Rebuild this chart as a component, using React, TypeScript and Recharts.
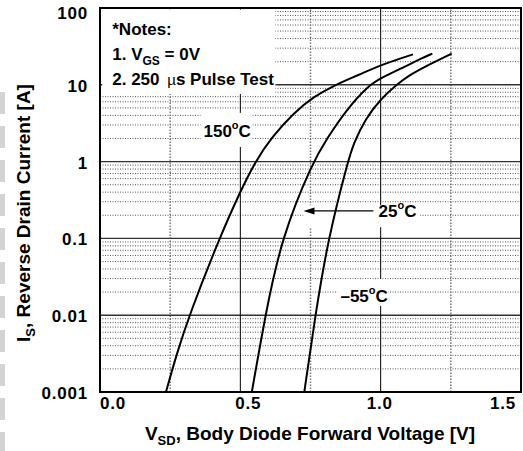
import React from "react";
import { LineChart, Line, XAxis, YAxis, ReferenceLine, ReferenceArea } from "recharts";

const FONT = '"Liberation Sans", Arial, Helvetica, sans-serif';

// body diode curves: forward voltage [V] vs reverse drain current [A]
const vf150 = [0.235, 0.274, 0.318, 0.425, 0.5, 0.553, 0.613, 0.69, 0.761, 0.838, 0.927, 1.002, 1.115];
const is150 = [0.001, 0.0032, 0.01, 0.1, 0.41, 1, 2.1, 4.3, 7.0, 10, 13.7, 18.2, 24.9];

const vf25 = [0.541, 0.589, 0.646, 0.758, 0.809, 0.875, 0.959, 1.001, 1.094, 1.141, 1.184];
const is25 = [0.001, 0.01, 0.1, 1, 2.0, 4.6, 10, 12.2, 17.8, 21.7, 25.5];

const vfM55 = [0.728, 0.767, 0.813, 0.883, 0.903, 0.945, 1.001, 1.057, 1.099, 1.177, 1.253];
const isM55 = [0.001, 0.01, 0.1, 1, 1.7, 3.6, 6.6, 10, 13.2, 18.7, 25.5];

const xTicks = [0, 0.5, 1.0, 1.5];
const xTickLabels = ["0.0", "0.5", "1.0", "1.5"];
const xTickShift = [13, 8, -1, -10];
const yTicks = [0.001, 0.01, 0.1, 1, 10, 100];
const yTickLabels = ["0.001", "0.01", "0.1", "1", "10", "100"];

const xMajorGrid = [0.5, 1.0];
const xMinorGrid = [0.25, 0.75, 1.25];
const yMajorGrid = [0.01, 0.1, 1, 10];
const decades = [0.001, 0.01, 0.1, 1, 10];
const yMinorGrid = decades.flatMap((d) => [2, 3, 4, 5, 6, 7, 8, 9].map((m) => +(d * m).toPrecision(3)));

const toPoints = (vf: number[], is: number[]) => vf.map((v, k) => ({ v, i: is[k] }));
const curve150 = toPoints(vf150, is150);
const curve25 = toPoints(vf25, is25);
const curveM55 = toPoints(vfM55, isM55);

const bold = { fontFamily: FONT, fontWeight: "bold" as const, fill: "#000" };

const XTick = (props: any) => {
  const k = xTicks.indexOf(props.payload.value);
  return (
    <text x={props.x + (xTickShift[k] ?? 0)} y={props.y + 17} textAnchor="middle" fontSize={17} letterSpacing={0.8} {...bold}>
      {xTickLabels[k]}
    </text>
  );
};

const YTick = (props: any) => {
  const k = yTicks.indexOf(props.payload.value);
  return (
    <text x={props.x} y={Math.max(props.y, 12) + 7} textAnchor="end" fontSize={17} letterSpacing={0.8} {...bold}>
      {yTickLabels[k]}
    </text>
  );
};

const Degrees = ({ x, y, value }: { x: number; y: number; value: string }) => (
  <text x={x} y={y} fontSize={17} {...bold}>
    {value}
    <tspan fontSize={11} dy={-8}>o</tspan>
    <tspan dy={8}>C</tspan>
  </text>
);

const NotesBox = (p: any) => (
  <g>
    <rect x={p.x} y={p.y} width={p.width} height={p.height} fill="#fff" />
    <text x={p.x + 10} y={p.y + 25} fontSize={17} {...bold}>*Notes:</text>
    <text x={p.x + 10} y={p.y + 50} fontSize={17} {...bold}>
      1. V<tspan fontSize={12} dy={5}>GS</tspan>
      <tspan dy={-5}> = 0V</tspan>
    </text>
    <text x={p.x + 10} y={p.y + 75} fontSize={17} {...bold}>
      2. 250 <tspan fontWeight="normal" fontSize={15} dx={3}>µ</tspan>s Pulse Test
    </text>
  </g>
);

const LabelBox = (text: string, dx: number, dy: number) => (p: any) => (
  <g>
    <rect x={p.x} y={p.y} width={p.width} height={p.height} fill="#fff" />
    <Degrees x={p.x + dx} y={p.y + dy} value={text} />
  </g>
);

const Arrow = (p: any) => {
  const { x1, y1, x2, y2 } = p;
  return (
    <g>
      <line x1={x1 + 8} y1={y1} x2={x2} y2={y2} stroke="#000" strokeWidth={1.3} />
      <polygon points={`${x1},${y1} ${x1 + 11},${y1 - 3.5} ${x1 + 11},${y1 + 3.5}`} fill="#000" />
    </g>
  );
};

export default function App() {
  return (
    <div style={{ position: "fixed", left: 0, top: 0, width: 523, height: 451, background: "#fff" }}>
      <div
        style={{
          position: "absolute",
          left: 0,
          top: 92,
          width: 5,
          height: 359,
          background: "repeating-linear-gradient(to bottom, #d4d4d4 0 22px, transparent 22px 34px)",
        }}
      />
      <LineChart width={523} height={451} margin={{ top: 8, right: 2, bottom: 0, left: 0 }}>
        <XAxis
          type="number"
          dataKey="v"
          domain={[0, 1.5]}
          ticks={xTicks}
          allowDataOverflow
          axisLine={false}
          tickLine={false}
          tickSize={0}
          tickMargin={0}
          height={59}
          tick={XTick}
        />
        <YAxis
          type="number"
          dataKey="i"
          scale="log"
          domain={[0.001, 100]}
          ticks={yTicks}
          allowDataOverflow
          axisLine={false}
          tickLine={false}
          tickSize={0}
          tickMargin={12}
          width={100}
          tick={YTick}
        />

        {yMinorGrid.map((v) => (
          <ReferenceLine key={`ym${v}`} y={v} stroke="#555" strokeWidth={1} strokeDasharray="1 1.5" zIndex={10} />
        ))}
        {yMajorGrid.map((v) => (
          <ReferenceLine key={`yM${v}`} y={v} stroke="#333" strokeWidth={1.4} zIndex={11} />
        ))}
        {xMinorGrid.map((v) => (
          <ReferenceLine key={`xm${v}`} x={v} stroke="#777" strokeWidth={1.5} strokeDasharray="1.5 1.5" zIndex={10} />
        ))}
        {xMajorGrid.map((v) => (
          <ReferenceLine key={`xM${v}`} x={v} stroke="#000" strokeWidth={1} zIndex={11} />
        ))}

        <ReferenceArea x1={0.008} x2={0.625} y1={7.6} y2={95} shape={NotesBox} zIndex={20} />
        <ReferenceArea x1={0.358} x2={0.543} y1={1.55} y2={4.31} shape={LabelBox("150", 3, 24)} zIndex={20} />
        <ReferenceArea x1={0.725} x2={1.141} y1={0.14} y2={0.27} shape={LabelBox("25", 75, 12)} zIndex={20} />
        <ReferenceArea x1={0.846} x2={1.027} y1={0.0132} y2={0.0297} shape={LabelBox("–55", 3, 23)} zIndex={20} />
        <ReferenceLine
          segment={[{ x: 0.725, y: 0.228 }, { x: 0.974, y: 0.228 }]}
          shape={Arrow}
          zIndex={30}
        />

        <Line data={curve150} dataKey="i" type="basis" stroke="#000" strokeWidth={2} dot={false} isAnimationActive={false} zIndex={400} />
        <Line data={curve25} dataKey="i" type="basis" stroke="#000" strokeWidth={2} dot={false} isAnimationActive={false} zIndex={400} />
        <Line data={curveM55} dataKey="i" type="basis" stroke="#000" strokeWidth={2} dot={false} isAnimationActive={false} zIndex={400} />

        <ReferenceArea x1={0} x2={1.5} y1={0.001} y2={100} fill="none" stroke="#000" strokeWidth={2} fillOpacity={0} zIndex={500} />

        <text x={30} y={213} transform="rotate(-90, 30, 213)" textAnchor="middle" fontSize={19} {...bold}>
          I<tspan fontSize={13} dy={5}>S</tspan>
          <tspan dy={-5}>, Reverse Drain Current [A]</tspan>
        </text>
        <text x={310} y={440} textAnchor="middle" fontSize={19} {...bold}>
          V<tspan fontSize={13} dy={5}>SD</tspan>
          <tspan dy={-5}>, Body Diode Forward Voltage [V]</tspan>
        </text>
      </LineChart>
    </div>
  );
}
